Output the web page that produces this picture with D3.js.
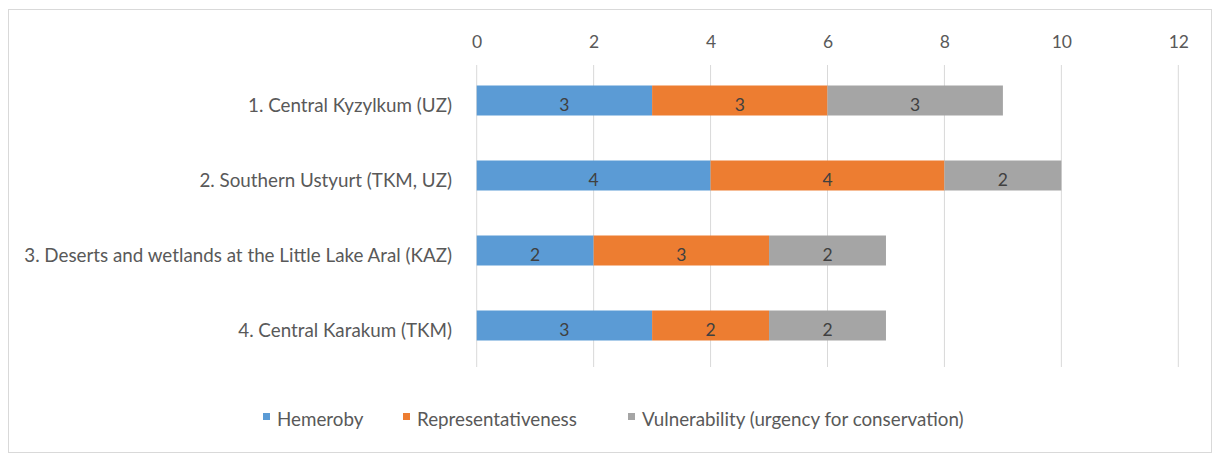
<!DOCTYPE html>
<html>
<head>
<meta charset="utf-8">
<script src="https://cdn.jsdelivr.net/npm/d3@7"></script>
<style>
  html, body { margin: 0; padding: 0; background: #fff; }
  svg { display: block; }
  text { font-family: Lato, "Open Sans", sans-serif; }
</style>
</head>
<body>
<svg id="chart" width="1214" height="454"></svg>
<script>
// Site assessment scores, stacked per criterion
const categories = [
  "1. Central Kyzylkum (UZ)",
  "2. Southern Ustyurt (TKM, UZ)",
  "3. Deserts and wetlands at the Little Lake Aral (KAZ)",
  "4. Central Karakum (TKM)"
];
const seriesNames = [
  "Hemeroby",
  "Representativeness",
  "Vulnerability (urgency for conservation)"
];
const hemeroby = [3, 4, 2, 3];
const representativeness = [3, 4, 3, 2];
const vulnerability = [3, 2, 2, 2];
const xTicks = [0, 2, 4, 6, 8, 10, 12];
const colors = ["#5B9BD5", "#ED7D31", "#A5A5A5"];

const rows = categories.map((c, i) => ({
  category: c,
  [seriesNames[0]]: hemeroby[i],
  [seriesNames[1]]: representativeness[i],
  [seriesNames[2]]: vulnerability[i]
}));

const svg = d3.select("#chart");

// outer frame
svg.append("rect")
  .attr("x", 8.5).attr("y", 9.5)
  .attr("width", 1203).attr("height", 443)
  .attr("fill", "#fff")
  .attr("stroke", "#d9d9d9")
  .attr("stroke-width", 1);

const x = d3.scaleLinear().domain([0, 12]).range([476.7, 1178.3]);
const y = d3.scaleBand().domain(categories).range([63, 363]).paddingInner(0.6).paddingOuter(0.3);

// top tick labels
const xAxis = d3.axisTop(x).tickValues(xTicks).tickSize(0).tickPadding(0);
const gx = svg.append("g").attr("transform", "translate(0,42)").call(xAxis);
gx.select(".domain").remove();
gx.selectAll("text")
  .attr("fill", "#595959")
  .attr("font-size", 17.5)
  .attr("y", 0)
  .attr("dy", "0.35em");

// vertical gridlines
svg.append("g").selectAll("line")
  .data(xTicks)
  .join("line")
  .attr("x1", d => x(d)).attr("x2", d => x(d))
  .attr("y1", 65).attr("y2", 367)
  .attr("stroke", "#d9d9d9")
  .attr("stroke-width", 1);

// stacked bars
const stack = d3.stack().keys(seriesNames)(rows);

const layers = svg.append("g").selectAll("g")
  .data(stack)
  .join("g")
  .attr("fill", (d, i) => colors[i]);

layers.selectAll("rect")
  .data(d => d)
  .join("rect")
  .attr("x", d => x(d[0]))
  .attr("width", d => x(d[1]) - x(d[0]))
  .attr("y", d => y(d.data.category))
  .attr("height", y.bandwidth());

// value labels inside segments
layers.selectAll("text")
  .data(d => d.map(v => ({ v, key: d.key })))
  .join("text")
  .attr("x", d => (x(d.v[0]) + x(d.v[1])) / 2)
  .attr("y", d => y(d.v.data.category) + y.bandwidth() / 2 + 4)
  .attr("dy", "0.35em")
  .attr("text-anchor", "middle")
  .attr("fill", "#404040")
  .attr("font-size", 17.5)
  .text(d => d.v[1] - d.v[0]);

// category labels
const yAxis = d3.axisLeft(y).tickSize(0).tickPadding(0);
const gy = svg.append("g").attr("transform", "translate(452,5)").call(yAxis);
gy.select(".domain").remove();
gy.selectAll("text")
  .attr("fill", "#595959")
  .attr("font-size", 18.8)
  .attr("font-family", "Lato, sans-serif");

// legend
const legendX = [263, 403, 628];
const legend = svg.append("g").selectAll("g")
  .data(seriesNames)
  .join("g")
  .attr("transform", (d, i) => `translate(${legendX[i]},413)`);
legend.append("rect")
  .attr("width", 7).attr("height", 7)
  .attr("fill", (d, i) => colors[i]);
legend.append("text")
  .attr("x", 14).attr("y", 6)
  .attr("dy", "0.35em")
  .attr("fill", "#595959")
  .attr("font-size", 18.8)
  .text(d => d);
</script>
</body>
</html>
